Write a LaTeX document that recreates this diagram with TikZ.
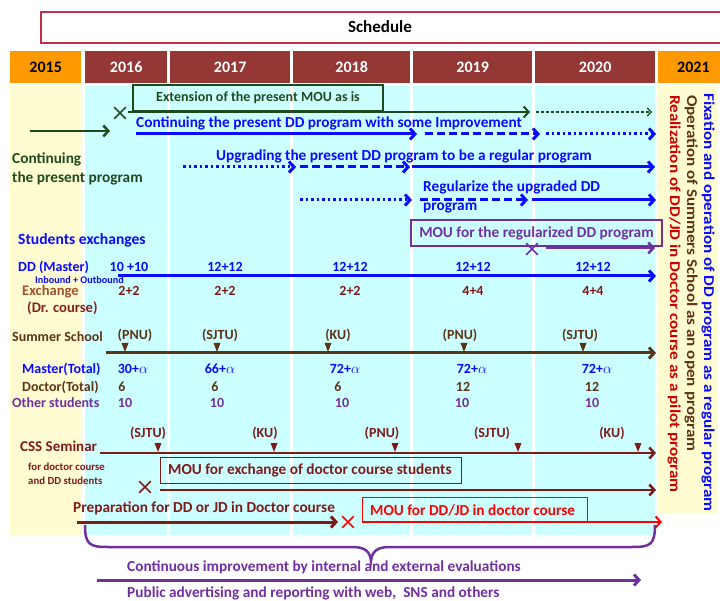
\documentclass[tikz,border=0pt]{standalone}
\usepackage{fontspec}
\setmainfont{Carlito}
\usetikzlibrary{arrows.meta,shapes.misc}
\definecolor{hdr}{HTML}{953735}
\definecolor{org}{HTML}{FF9900}
\definecolor{ttl}{HTML}{C0304A}
\definecolor{cyanbg}{HTML}{CCFFFF}
\definecolor{yel}{HTML}{FFFCD2}
\definecolor{dgreen}{HTML}{1E4B1E}
\definecolor{bblue}{HTML}{0A0AFF}
\definecolor{purp}{HTML}{7030A0}
\definecolor{brwn}{HTML}{5C3317}
\definecolor{mar}{HTML}{7F1A1A}
\definecolor{lbrown}{HTML}{A0522D}
\definecolor{rred}{HTML}{FF0000}
\tikzset{
  f/.style={font=\bfseries\fontsize{15.3}{17}\selectfont, inner sep=0pt},
  fl/.style={font=\bfseries\fontsize{14}{16}\selectfont, inner sep=0pt},
  fv/.style={font=\bfseries\fontsize{14}{16}\selectfont, inner sep=0pt},
  fs/.style={font=\bfseries\fontsize{10.8}{12}\selectfont, inner sep=0pt},
  fr/.style={font=\bfseries\fontsize{15}{17}\selectfont, inner sep=0pt, rotate=-90, anchor=west},
  yr/.style={font=\bfseries\fontsize{16}{18}\selectfont, inner sep=0pt, minimum height=32pt, anchor=north west},
  tip/.style={-{Straight Barb[length=5pt,width=11pt]}},
  stip/.style={-{Straight Barb[length=4pt,width=8pt]}},
  dsh/.style={dash pattern=on 8pt off 4pt},
  dtt/.style={dash pattern=on 2.5pt off 3pt},
  xmark/.style={cross out, draw, line width=1.6pt, minimum size=10pt, inner sep=0pt},
}
\begin{document}
\begin{tikzpicture}[x=1pt,y=-1pt]
\useasboundingbox (0,0) rectangle (720,601);
\clip (0,0) rectangle (720,601);
\fill[white] (0,0) rectangle (720,601);
% title
\node[draw=ttl, line width=2pt, minimum width=690pt, minimum height=31pt, anchor=north west, inner sep=0pt] (title) at (40,11) {};
\node[font=\bfseries\fontsize{17}{19}\selectfont, inner sep=0pt] (titlet) at (380,27) {Schedule};
% year row
\node[yr, fill=org, minimum width=71pt, text=black] (y15) at (10,51) {2015};
\node[yr, fill=hdr, minimum width=82pt, text=white] (y16) at (85,51) {2016};
\node[yr, fill=hdr, minimum width=120pt, text=white] (y17) at (170,51) {2017};
\node[yr, fill=hdr, minimum width=117pt, text=white] (y18) at (293,51) {2018};
\node[yr, fill=hdr, minimum width=119pt, text=white] (y19) at (413,51) {2019};
\node[yr, fill=hdr, minimum width=120pt, text=white] (y20) at (535,51) {2020};
\node[yr, fill=org, minimum width=70pt, text=black, text width=58pt, align=left] (y21) at (658,51) {\hspace*{13pt}2021};
% backgrounds
\fill[yel] (10,86) rectangle (82,535);
\fill[cyanbg] (85,86) rectangle (167,535);
\fill[cyanbg] (170,86) rectangle (290,535);
\fill[cyanbg] (293,86) rectangle (410,535);
\fill[cyanbg] (413,86) rectangle (532,535);
\fill[cyanbg] (535,86) rectangle (655,535);
\fill[yel] (657,86) rectangle (718,513);
% right column texts
\node[fr, text=bblue] (r1) at (708,93) {\scalebox{1.14}[1]{Fixation and operation of DD program as a regular program}};
\node[fr, text=brwn] (r2) at (691,95) {\scalebox{1.14}[1]{Operation of Summers School as an open program}};
\node[fr, text=rred!80!black] (r3) at (674,95) {\scalebox{1.14}[1]{Realization of DD/JD in Doctor course as a pilot program}};
% row 1: present MOU
\node[draw=dgreen, line width=1.2pt, minimum width=250pt, minimum height=26pt, inner sep=0pt, fl, text=dgreen] (mou1) at (258,98) {Extension of the present MOU as is};
\node[xmark, draw=dgreen] (x1) at (120,113) {};
\coordinate (g1a) at (128,112); \coordinate (g1b) at (530,112);
\coordinate (g2a) at (536,112); \coordinate (g2b) at (652,112);
\draw[dgreen, line width=2pt, tip] (g1a) -- (g1b);
\draw[dgreen, line width=1.2pt, dash pattern=on 3pt off 2pt, stip] (g2a) -- (g2b);
\coordinate (g0a) at (30,131); \coordinate (g0b) at (110,131);
\draw[dgreen, line width=2.5pt, tip] (g0a) -- (g0b);
\node[f, text=dgreen, anchor=west] (cp1) at (12,159) {Continuing};
\node[f, text=dgreen, anchor=west] (cp2) at (12,178) {the present program};
% row 2
\node[f, text=bblue, anchor=west] (t2) at (136,123) {Continuing the present DD program with some Improvement};
\coordinate (b2a) at (136,134); \coordinate (b2b) at (417,134);
\coordinate (b2c) at (425,134); \coordinate (b2d) at (540,134);
\coordinate (b2e) at (546,134); \coordinate (b2f) at (656,134);
\draw[bblue, line width=3pt, tip] (b2a) -- (b2b);
\draw[bblue, line width=3pt, dsh, tip] (b2c) -- (b2d);
\draw[bblue, line width=3pt, dtt, tip] (b2e) -- (b2f);
% row 3
\node[f, text=bblue, anchor=west] (t3) at (216,156) {Upgrading the present DD program to be a regular program};
\coordinate (b3a) at (183,167); \coordinate (b3b) at (296,167);
\coordinate (b3c) at (300,167); \coordinate (b3d) at (410,167);
\coordinate (b3e) at (412,167); \coordinate (b3f) at (655,167);
\draw[bblue, line width=3pt, dtt, tip] (b3a) -- (b3b);
\draw[bblue, line width=3pt, dsh, tip] (b3c) -- (b3d);
\draw[bblue, line width=3pt, tip] (b3e) -- (b3f);
% row 4
\node[f, text=bblue, anchor=west] (t4a) at (423,187) {Regularize the upgraded DD};
\node[f, text=bblue, anchor=west] (t4b) at (423,208) {program};
\coordinate (b4a) at (300,200); \coordinate (b4b) at (412,200);
\coordinate (b4c) at (420,200); \coordinate (b4d) at (528,200);
\coordinate (b4e) at (532,200); \coordinate (b4f) at (656,200);
\draw[bblue, line width=3pt, dtt, tip] (b4a) -- (b4b);
\draw[bblue, line width=3pt, dsh, tip] (b4c) -- (b4d);
\draw[bblue, line width=3pt, tip] (b4e) -- (b4f);
% row 5: MOU regularized
\node[draw=purp, line width=1.2pt, minimum width=251pt, minimum height=26pt, inner sep=0pt, f, text=purp] (mou2) at (536.5,233) {MOU for the regularized DD program};
\node[xmark, draw=purp] (x2) at (532,249) {};
\coordinate (p1a) at (546,248); \coordinate (p1b) at (655,248);
\draw[purp, line width=2.5pt, tip] (p1a) -- (p1b);
% students exchanges
\node[font=\bfseries\fontsize{15.6}{17}\selectfont, inner sep=0pt, text=bblue, anchor=west] (se) at (18,240) {Students exchanges};
\node[fl, text=bblue, anchor=west] (ddm) at (18,267) {DD (Master)};
\node[fs, font=\bfseries\fontsize{10.2}{11}\selectfont, text=bblue, anchor=west] (io) at (35,280) {Inbound + Outbound};
\node[fl, font=\bfseries\fontsize{14.6}{16}\selectfont, text=lbrown, anchor=west] (exc) at (22,292) {Exchange};
\node[fl, font=\bfseries\fontsize{14.6}{16}\selectfont, text=mar!90!lbrown, anchor=west] (drc) at (27,308) {(Dr. course)};
\coordinate (dda) at (118,276); \coordinate (ddb) at (656,276);
\draw[bblue, line width=3pt, tip] (dda) -- (ddb);
\node[fv, text=bblue] (v1) at (129,267) {10 +10};
\node[fv, text=bblue] (v2) at (225,267) {12+12};
\node[fv, text=bblue] (v3) at (350,267) {12+12};
\node[fv, text=bblue] (v4) at (473,267) {12+12};
\node[fv, text=bblue] (v5) at (593,267) {12+12};
\node[fv, text=mar] (e1) at (129,291) {2+2};
\node[fv, text=mar] (e2) at (225,291) {2+2};
\node[fv, text=mar] (e3) at (350,291) {2+2};
\node[fv, text=mar] (e4) at (473,291) {4+4};
\node[fv, text=mar] (e5) at (593,291) {4+4};
% summer school
\node[fl, text=brwn, anchor=west] (ss) at (12,337) {Summer School};
\coordinate (ssa) at (106,353); \coordinate (ssb) at (656,353);
\draw[brwn, line width=3pt, tip] (ssa) -- (ssb);
\node[fv, text=brwn] (s1) at (135,335) {(PNU)};
\node[fv, text=brwn] (s2) at (220,335) {(SJTU)};
\node[fv, text=brwn] (s3) at (338,335) {(KU)};
\node[fv, text=brwn] (s4) at (460,335) {(PNU)};
\node[fv, text=brwn] (s5) at (580,335) {(SJTU)};
\foreach \x in {125,217,328,464,583} \fill[brwn] (\x-3.5,343) -- (\x+3.5,343) -- (\x,352) -- cycle;
\node[fl, text=bblue, anchor=west] (mt) at (22,369) {Master(Total)};
\node[fl, text=brwn, anchor=west] (dt) at (22,387) {Doctor(Total)};
\node[fl, text=purp, anchor=west] (os) at (12,403) {Other students};
\node[fv, text=bblue] (m1) at (133,369) {30+$\alpha$};
\node[fv, text=bblue] (m2) at (220,369) {66+$\alpha$};
\node[fv, text=bblue] (m3) at (345,369) {72+$\alpha$};
\node[fv, text=bblue] (m4) at (472,369) {72+$\alpha$};
\node[fv, text=bblue] (m5) at (597,369) {72+$\alpha$};
\node[fv, text=brwn] (d1) at (122,387) {6};
\node[fv, text=brwn] (d2) at (215,387) {6};
\node[fv, text=brwn] (d3) at (338,387) {6};
\node[fv, text=brwn] (d4) at (463,387) {12};
\node[fv, text=brwn] (d5) at (592,387) {12};
\node[fv, text=purp] (o1) at (125,403) {10};
\node[fv, text=purp] (o2) at (217,403) {10};
\node[fv, text=purp] (o3) at (342,403) {10};
\node[fv, text=purp] (o4) at (462,403) {10};
\node[fv, text=purp] (o5) at (592,403) {10};
% CSS seminar
\node[font=\bfseries\fontsize{15}{17}\selectfont, inner sep=0pt, text=mar, anchor=west] (css) at (20,446) {CSS Seminar};
\node[fs, text=mar, anchor=west] (css2) at (28,467) {for doctor course};
\node[fs, text=mar, anchor=west] (css3) at (28,481) {and DD students};
\coordinate (csa) at (100,453); \coordinate (csb) at (656,453);
\draw[mar, line width=2.5pt, tip] (csa) -- (csb);
\node[fv, text=mar] (c1) at (148,433) {(SJTU)};
\node[fv, text=mar] (c2) at (265,433) {(KU)};
\node[fv, text=mar] (c3) at (382,433) {(PNU)};
\node[fv, text=mar] (c4) at (492,433) {(SJTU)};
\node[fv, text=mar] (c5) at (612,433) {(KU)};
\foreach \x in {158,274,395,518,638} \fill[mar] (\x-3.5,443) -- (\x+3.5,443) -- (\x,452) -- cycle;
\node[draw=mar, line width=1.2pt, minimum width=301pt, minimum height=26pt, inner sep=0pt, anchor=north west] (mou3) at (160,457) {};
\node[f, text=mar, anchor=west] (mou3t) at (168,470) {MOU for exchange of doctor course students};
\node[xmark, draw=mar] (x3) at (145,487) {};
\coordinate (m3a) at (160,490); \coordinate (m3b) at (656,490);
\draw[mar, line width=2.5pt, tip] (m3a) -- (m3b);
\node[f, text=mar, anchor=west] (prep) at (73,508) {Preparation for DD or JD in Doctor course};
\coordinate (pra) at (77,522); \coordinate (prb) at (338,522);
\draw[mar, line width=3pt, tip] (pra) -- (prb);
\node[xmark, draw=rred] (x4) at (348,522) {};
\node[draw=rred, line width=1pt, minimum width=225pt, minimum height=25pt, inner sep=0pt, anchor=north west] (mou4) at (362,497) {};
\node[f, text=rred, anchor=west] (mou4t) at (370,510) {MOU for DD/JD in doctor course};
\coordinate (rda) at (362,522); \coordinate (rdb) at (662,522);
\draw[rred, line width=2pt, tip] (rda) -- (rdb);
% brace
\draw[purp, line width=2.5pt] (85,525) .. controls (85,545) and (90,547) .. (108,547) -- (352,547)
  .. controls (366,547) and (370,552) .. (371,561) .. controls (372,552) and (376,547) .. (390,547)
  -- (632,547) .. controls (650,547) and (655,545) .. (655,525);
\node[f, text=purp, anchor=west] (ci) at (127,567) {Continuous improvement by internal and external evaluations};
\coordinate (pua) at (97,580); \coordinate (pub) at (641,580);
\draw[purp, line width=3pt, tip] (pua) -- (pub);
\node[f, text=purp, anchor=west] (pa) at (127,593) {Public advertising and reporting with web,\ \ SNS and others};
\end{tikzpicture}
\end{document}
